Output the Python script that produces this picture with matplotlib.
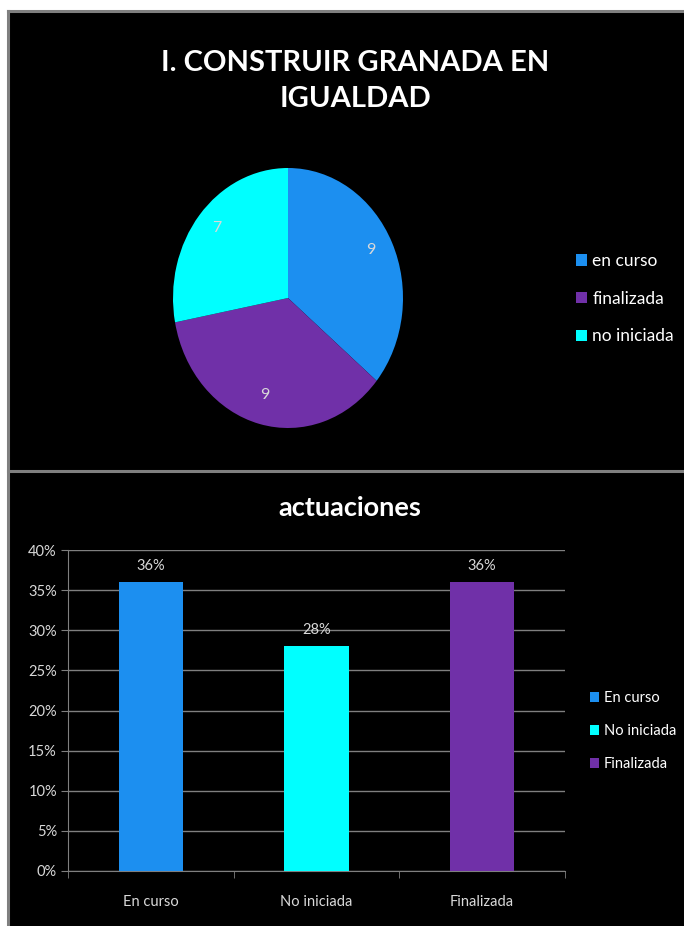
import matplotlib
matplotlib.use("Agg")
import matplotlib.pyplot as plt
from matplotlib.patches import Rectangle, Patch
from matplotlib.ticker import FixedLocator
import numpy as np

plt.rcParams['font.family'] = ['Lato', 'DejaVu Sans']

# ---- data ----
pie_labels = ["en curso", "finalizada", "no iniciada"]
pie_values = [9, 9, 7]
pie_colors = ["#1C8FF0", "#7030A8", "#00FFFF"]
pie_title = "I. CONSTRUIR GRANADA EN\nIGUALDAD"

bar_categories = ["En curso", "No iniciada", "Finalizada"]
bar_values = [0.36, 0.28, 0.36]
bar_colors = ["#1C8FF0", "#00FFFF", "#7030A8"]
bar_title = "actuaciones"
y_ticks = [0, 0.05, 0.10, 0.15, 0.20, 0.25, 0.30, 0.35, 0.40]
y_tick_labels = ["0%", "5%", "10%", "15%", "20%", "25%", "30%", "35%", "40%"]

W, H = 684, 926
fig = plt.figure(figsize=(W / 100, H / 100), dpi=100, facecolor="white")

def fx(px):
    return px / W

def fy(py):
    return 1 - py / H

# background panels
grey = "#7f7f7f"
fig.patches.append(Rectangle((fx(7), 0), 1 - fx(7), fy(10), transform=fig.transFigure,
                             facecolor="black", edgecolor="none", zorder=-5))
for xs, ys in [([fx(8), 1], [fy(11), fy(11)]),
               ([fx(8), fx(8)], [0, fy(11)]),
               ([fx(8), 1], [fy(471), fy(471)])]:
    fig.lines.append(plt.Line2D(xs, ys, transform=fig.transFigure, color=grey, lw=2.2,
                                zorder=-4))

txt = "white"
lbl = "#d9d9d9"

# ---- pie ----
fig.text(fx(355), fy(81), pie_title, ha="center", va="center", color=txt,
         fontsize=21, fontweight="bold", linespacing=1.45)

cx, cy, rx, ry = 288, 298, 115, 130
axp = fig.add_axes([fx(cx - rx), fy(cy + ry), 2 * rx / W, 2 * ry / H])
axp.set_facecolor("none")
wedges, texts = axp.pie(pie_values, colors=pie_colors, startangle=90, counterclock=False,
                        radius=1, wedgeprops=dict(linewidth=0))
axp.set_aspect("auto")
axp.set_xlim(-1, 1)
axp.set_ylim(-1, 1)
axp.axis("off")
total = sum(pie_values)
ang = 90
for v in pie_values:
    mid = ang - v / total * 360 / 2
    ang -= v / total * 360
    r = 0.8
    axp.text(r * np.cos(np.radians(mid)), r * np.sin(np.radians(mid)) + 0.03, str(v),
             ha="center", va="center", color=lbl, fontsize=11.5)

handles = [Patch(facecolor=c, edgecolor="none") for c in pie_colors]
fig.legend(handles, pie_labels, loc="upper left", bbox_to_anchor=(fx(576), fy(253)),
           frameon=False, labelcolor=txt, fontsize=12.5, handlelength=0.65, handleheight=0.65,
           handletextpad=0.3, labelspacing=1.25, borderpad=0, borderaxespad=0)

# ---- bars ----
fig.text(fx(350), fy(508), bar_title, ha="center", va="center", color=txt,
         fontsize=19.5, fontweight="bold")

axb = fig.add_axes([fx(68), fy(871), (565 - 68) / W, (871 - 550) / H])
axb.set_facecolor("none")
x = np.arange(len(bar_categories))
bars = axb.bar(x, bar_values, width=0.39, color=bar_colors, zorder=3)
axb.set_xlim(-0.5, 2.5)
axb.set_ylim(0, 0.40)
axb.set_yticks(y_ticks)
axb.set_yticklabels(y_tick_labels)
axb.yaxis.grid(True, color=grey, lw=1, zorder=0)
axb.set_axisbelow(True)
axb.set_xticks(x)
axb.set_xticklabels(bar_categories)
axb.xaxis.set_minor_locator(FixedLocator([-0.5, 0.5, 1.5, 2.5]))
axb.tick_params(axis="x", which="major", length=0, pad=17, colors=lbl, labelsize=10.5)
axb.tick_params(axis="x", which="minor", length=5, color=grey)
axb.tick_params(axis="y", length=5, color=grey, colors=lbl, labelsize=10.5, pad=3)
for s in ["top", "right"]:
    axb.spines[s].set_visible(False)
for s in ["left", "bottom"]:
    axb.spines[s].set_color(grey)
for b, v in zip(bars, bar_values):
    axb.text(b.get_x() + b.get_width() / 2, v + 0.011, f"{round(v * 100)}%",
             ha="center", va="bottom", color=lbl, fontsize=10.5)

handles = [Patch(facecolor=c, edgecolor="none") for c in bar_colors]
fig.legend(handles, bar_categories, loc="upper left", bbox_to_anchor=(fx(590), fy(691)),
           frameon=False, labelcolor=txt, fontsize=10.5, handlelength=0.65, handleheight=0.65,
           handletextpad=0.3, labelspacing=1.3, borderpad=0, borderaxespad=0)

fig.savefig("out.png", dpi=100, facecolor=fig.get_facecolor())
